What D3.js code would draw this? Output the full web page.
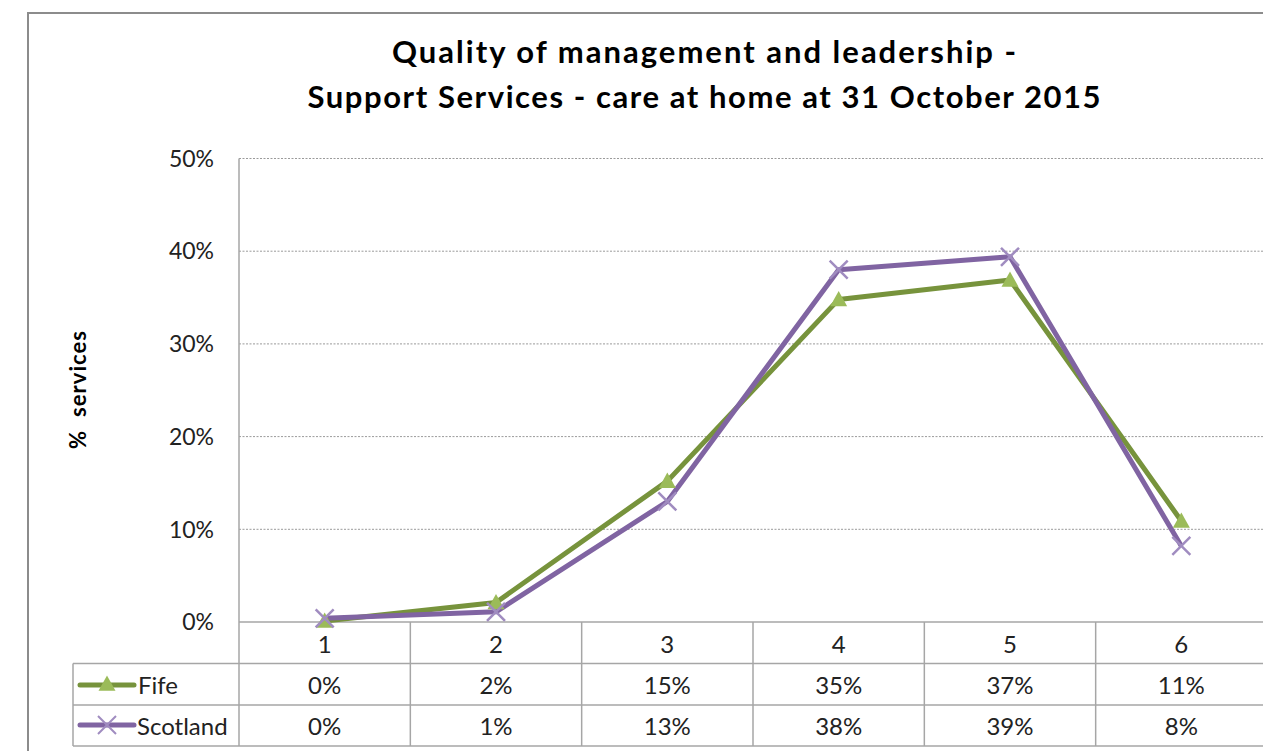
<!DOCTYPE html>
<html><head><meta charset="utf-8">
<script src="https://cdn.jsdelivr.net/npm/d3@7"></script>
<style>body{margin:0;background:#fff;}svg{display:block;}</style>
</head><body>
<svg id="c" width="1263" height="751"></svg>
<script>
const categories = ["1","2","3","4","5","6"];
const fifeValues = [0.1, 2.1, 15.2, 34.8, 36.9, 10.9];
const scotlandValues = [0.4, 1.1, 13.0, 38.0, 39.4, 8.2];
const fifeLabels = ["0%","2%","15%","35%","37%","11%"];
const scotlandLabels = ["0%","1%","13%","38%","39%","8%"];
const yTicks = [0,10,20,30,40,50];
const titleLines = ["Quality of management and leadership -","Support Services - care at home at 31 October 2015"];
const titleWidths = [624, 793];

const font = "Lato, 'Open Sans', sans-serif";
const svg = d3.select("#c");
svg.append("rect").attr("x",28).attr("y",13).attr("width",1300).attr("height",800)
  .attr("fill","none").attr("stroke","#8c8c8c").attr("stroke-width",2);

const x = d3.scaleBand().domain(categories).range([239,1267]);
const y = d3.scaleLinear().domain([0,50]).range([622,158.5]);

svg.append("g").selectAll("line").data(yTicks.slice(1)).join("line")
  .attr("x1",239).attr("x2",1263).attr("y1",d=>y(d)).attr("y2",d=>y(d))
  .attr("stroke","#9a9a9a").attr("stroke-width",1).attr("stroke-dasharray","2,1.5");

svg.append("g").selectAll("text").data(yTicks).join("text")
  .attr("x",214).attr("y",d=>y(d)).attr("dy","0.36em").attr("text-anchor","end")
  .attr("font-family",font).attr("font-size",23).attr("fill","#222")
  .text(d=>d+"%");

svg.append("text").attr("transform","translate(86,390) rotate(-90)")
  .attr("text-anchor","middle").attr("font-family",font).attr("font-weight","bold")
  .attr("font-size",22).attr("fill","#000").attr("textLength",118).attr("lengthAdjust","spacing")
  .style("white-space","pre").text("%  services");

titleLines.forEach((t,i)=>{
  svg.append("text").attr("x",704).attr("y",63+i*45).attr("text-anchor","middle")
    .attr("font-family",font).attr("font-weight","bold").attr("font-size",31).attr("fill","#000")
    .attr("textLength",titleWidths[i]).attr("lengthAdjust","spacing").text(t);
});

const gridC = "#a6a6a6";
const tb = svg.append("g");
tb.append("line").attr("x1",239).attr("x2",1263).attr("y1",622).attr("y2",622).attr("stroke",gridC).attr("stroke-width",1.5);
[663.5,705,746].forEach(v=>tb.append("line").attr("x1",73).attr("x2",1263).attr("y1",v).attr("y2",v).attr("stroke",gridC).attr("stroke-width",1.5));
tb.append("line").attr("x1",239).attr("x2",239).attr("y1",158.5).attr("y2",746).attr("stroke",gridC).attr("stroke-width",1.5);
tb.append("line").attr("x1",73).attr("x2",73).attr("y1",663.5).attr("y2",746).attr("stroke",gridC).attr("stroke-width",1.5);
categories.slice(1).forEach(c=>tb.append("line").attr("x1",x(c)).attr("x2",x(c)).attr("y1",622).attr("y2",746).attr("stroke",gridC).attr("stroke-width",1.5));

const fs = 24;
const cx = c=>x(c)+x.bandwidth()/2;
tb.selectAll("text.cat").data(categories).join("text").attr("class","cat")
  .attr("x",cx).attr("y",644).attr("dy","0.36em").attr("text-anchor","middle")
  .attr("font-family",font).attr("font-size",fs).attr("fill","#222").text(d=>d);
tb.selectAll("text.f").data(fifeLabels).join("text").attr("class","f")
  .attr("x",(d,i)=>cx(categories[i])).attr("y",685).attr("dy","0.36em").attr("text-anchor","middle")
  .attr("font-family",font).attr("font-size",fs).attr("fill","#222").text(d=>d);
tb.selectAll("text.s").data(scotlandLabels).join("text").attr("class","s")
  .attr("x",(d,i)=>cx(categories[i])).attr("y",726).attr("dy","0.36em").attr("text-anchor","middle")
  .attr("font-family",font).attr("font-size",fs).attr("fill","#222").text(d=>d);

const green="#77933C", greenM="#9BBB59", purple="#8064A2", purpleM="#a08cc0";
function tri(g,px,py,s){
  g.append("path").attr("d",`M${px},${py-s}L${px+s},${py+s*0.8}L${px-s},${py+s*0.8}Z`).attr("fill",greenM);
}
function cross(g,px,py,s,w){
  g.append("path").attr("d",`M${px-s},${py-s}L${px+s},${py+s}M${px-s},${py+s}L${px+s},${py-s}`)
   .attr("stroke",purpleM).attr("stroke-width",w).attr("fill","none");
}
tb.append("line").attr("x1",80).attr("x2",134).attr("y1",685).attr("y2",685).attr("stroke",green).attr("stroke-width",5).attr("stroke-linecap","round");
tri(tb,107,684,8.5);
tb.append("text").attr("x",138).attr("y",685).attr("dy","0.36em").attr("font-family",font).attr("font-size",fs).attr("fill","#222").text("Fife");
tb.append("line").attr("x1",80).attr("x2",134).attr("y1",725).attr("y2",725).attr("stroke",purple).attr("stroke-width",5).attr("stroke-linecap","round");
cross(tb,107,725,9,2);
tb.append("text").attr("x",137).attr("y",726).attr("dy","0.36em").attr("font-family",font).attr("font-size",fs).attr("fill","#222").text("Scotland");

const line = d3.line().x((d,i)=>cx(categories[i])).y(d=>y(d));
const lg = svg.append("g");
lg.append("path").datum(fifeValues).attr("d",line).attr("fill","none").attr("stroke",green).attr("stroke-width",5).attr("stroke-linejoin","round");
lg.append("path").datum(scotlandValues).attr("d",line).attr("fill","none").attr("stroke",purple).attr("stroke-width",5).attr("stroke-linejoin","round");
fifeValues.forEach((v,i)=>tri(lg,cx(categories[i]),y(v),8.5));
scotlandValues.forEach((v,i)=>cross(lg,cx(categories[i]),y(v),9,2.5));
</script>
</body></html>
